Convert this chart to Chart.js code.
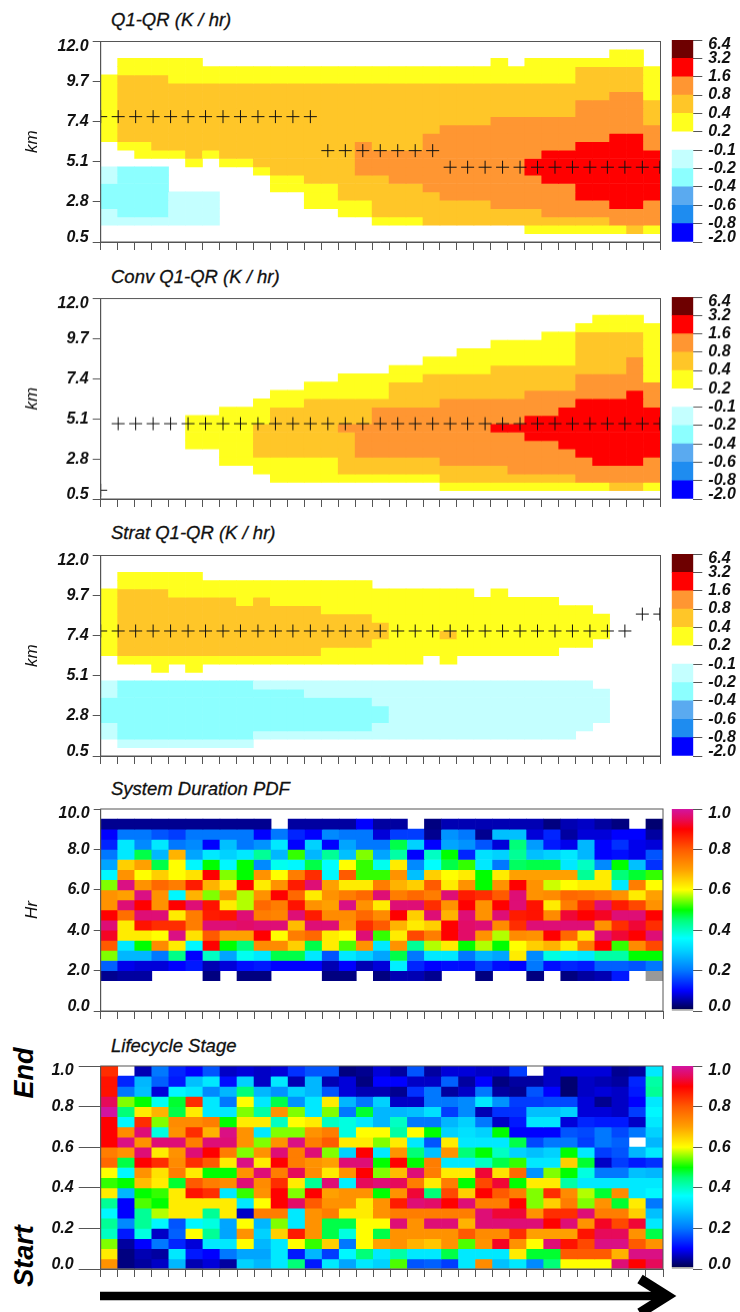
<!DOCTYPE html>
<html>
<head>
<meta charset="utf-8">
<script src="https://cdn.jsdelivr.net/npm/chart.js@4"></script>
<style>
  html, body { margin: 0; padding: 0; background: #fff; }
  #page { position: relative; width: 740px; height: 1312px; overflow: hidden; }
  canvas { position: absolute; }
  .title { position: absolute; left: 111px; font: italic 18.5px "Liberation Sans", sans-serif; line-height: 20px; color: #111; white-space: nowrap; -webkit-text-stroke: 0.3px #111; }
  .side { position: absolute; font: italic bold 27px "Liberation Sans", sans-serif; line-height: 30px; color: #000; transform: translate(-50%, -50%) rotate(-90deg); }
  svg { position: absolute; left: 0; top: 0; }
</style>
</head>
<body>
<div id="page">
  <svg width="740" height="1312">
    <line x1="100" y1="1296" x2="664" y2="1296" stroke="#000" stroke-width="8.5"/>
    <polyline points="640,1279 667,1296 640,1313" fill="none" stroke="#000" stroke-width="10"/>
  </svg>
  <div class="side" style="left:24px;top:1073px">End</div>
  <div class="side" style="left:24px;top:1256px">Start</div>
</div>
<script>
// Q1-QR heating classes, top row first, 33 columns
const q1Rows = [
  [0,0,0,0,0,0,0,0,0,0,0, 0,0,0,0,0,0,0,0,0,0,0, 0,0,0,0,0,0,0,0,0,0,0],
  [0,0,0,0,0,0,0,0,0,0,0, 0,0,0,0,0,0,0,0,0,0,0, 0,0,0,0,0,0,0,0,.3,.3,0],
  [0,.3,.3,.3,.3,.3,0,0,0,0,0, 0,0,0,0,0,0,0,0,0,0,0, 0,.3,0,.3,.3,.3,.3,.3,.3,.3,0],
  [0,.3,.3,.3,.3,.3,.3,.3,.3,.3,.3, .3,.3,.3,.3,.3,.3,.3,.3,.3,.3,.3, .3,.3,.3,.3,.3,.3,.6,.6,.6,.6,.3],
  [.3,.6,.6,.6,.3,.3,.3,.3,.3,.3,.3, .3,.3,.3,.3,.3,.3,.3,.3,.3,.3,.3, .3,.3,.3,.3,.3,.3,.6,.6,.6,.6,.3],
  [.3,.6,.6,.6,.6,.6,.6,.6,.6,.6,.6, .6,.6,.6,.6,.6,.6,.6,.6,.6,.6,.6, .6,.6,.6,.6,.6,.6,.6,.6,.6,.6,.3],
  [.3,.6,.6,.6,.6,.6,.6,.6,.6,.6,.6, .6,.6,.6,.6,.6,.6,.6,.6,.6,.6,.6, .6,.6,.6,.6,.6,.6,.6,.6,1.2,1.2,.3],
  [.3,.6,.6,.6,.6,.6,.6,.6,.6,.6,.6, .6,.6,.6,.6,.6,.6,.6,.6,.6,.6,.6, .6,.6,.6,.6,.6,.6,1.2,1.2,1.2,1.2,.6],
  [.3,.6,.6,.6,.6,.6,.6,.6,.6,.6,.6, .6,.6,.6,.6,.6,.6,.6,.6,.6,.6,.6, .6,.6,.6,.6,.6,.6,1.2,1.2,1.2,1.2,.6],
  [.3,.6,.6,.6,.6,.6,.6,.6,.6,.6,.6, .6,.6,.6,.6,.6,.6,.6,.6,.6,.6,.6, .6,1.2,1.2,1.2,1.2,1.2,1.2,1.2,1.2,1.2,.6],
  [.3,.6,.6,.6,.6,.6,.6,.6,.6,.6,.6, .6,.6,.6,.6,.6,.6,.6,.6,.6,1.2,1.2, 1.2,1.2,1.2,1.2,1.2,1.2,1.2,1.2,1.2,1.2,1.2],
  [.3,.6,.6,.6,.6,.6,.6,.6,.6,.6,.6, .6,.6,.6,.6,.6,.6,.6,.6,1.2,1.2,1.2, 1.2,1.2,1.2,1.2,1.2,1.2,1.2,1.2,2.4,2.4,1.2],
  [0,.3,.3,.6,.6,.6,.6,.6,.6,.6,.6, .6,.6,.6,.6,1.2,.6,.6,.6,1.2,1.2,1.2, 1.2,1.2,1.2,1.2,1.2,1.2,2.4,2.4,2.4,2.4,1.2],
  [0,0,.3,.3,.3,.6,.3,.6,.6,.6,.6, .6,.6,.6,.6,1.2,1.2,1.2,1.2,1.2,1.2,1.2, 1.2,1.2,1.2,1.2,2.4,2.4,2.4,2.4,2.4,2.4,2.4],
  [0,0,0,0,0,.3,0,.3,.3,.6,.6, .6,.6,.6,.6,1.2,1.2,1.2,1.2,1.2,1.2,1.2, 1.2,1.2,1.2,2.4,2.4,2.4,2.4,2.4,2.4,2.4,2.4],
  [-.15,-.3,-.3,-.3,0,0,0,0,0,.3,.6, .6,.6,.6,.6,1.2,1.2,1.2,1.2,1.2,1.2,1.2, 1.2,1.2,1.2,2.4,2.4,2.4,2.4,2.4,2.4,2.4,2.4],
  [-.15,-.3,-.3,-.3,0,0,0,0,0,0,.3, .3,.6,.6,.6,.6,.6,1.2,1.2,1.2,1.2,1.2, 1.2,1.2,1.2,1.2,2.4,2.4,2.4,2.4,2.4,2.4,2.4],
  [-.3,-.3,-.3,-.3,0,0,0,0,0,0,.3, .3,.3,.3,.6,.6,.6,.6,.6,1.2,1.2,1.2, 1.2,1.2,1.2,1.2,1.2,1.2,2.4,2.4,2.4,2.4,2.4],
  [-.3,-.3,-.3,-.3,-.15,-.15,-.15,0,0,0,0, 0,.3,.3,.6,.6,.6,.6,.6,.6,1.2,1.2, 1.2,1.2,1.2,1.2,1.2,1.2,2.4,2.4,2.4,2.4,2.4],
  [-.3,-.3,-.3,-.3,-.15,-.15,-.15,0,0,0,0, 0,.3,.3,.3,.3,.6,.6,.6,.6,.6,.6, .6,1.2,1.2,1.2,1.2,1.2,1.2,1.2,2.4,2.4,1.2],
  [-.15,-.3,-.3,-.3,-.15,-.15,-.15,0,0,0,0, 0,0,0,.3,.3,.6,.6,.6,.6,.6,.6, .6,.6,.6,.6,1.2,1.2,1.2,1.2,1.2,1.2,1.2],
  [-.15,-.15,-.15,-.15,-.15,-.15,-.15,0,0,0,0, 0,0,0,0,0,.3,.3,.3,.6,.6,.6, .6,.6,.6,.6,.6,.6,.6,.6,1.2,1.2,1.2],
  [0,0,0,0,0,0,0,0,0,0,0, 0,0,0,0,0,0,0,0,0,0,0, 0,0,0,.3,.3,.3,.3,.3,.3,.6,.3],
  [0,0,0,0,0,0,0,0,0,0,0, 0,0,0,0,0,0,0,0,0,0,0, 0,0,0,0,0,0,0,0,0,0,0]
];
const convRows = [
  [0,0,0,0,0,0,0,0,0,0,0, 0,0,0,0,0,0,0,0,0,0,0, 0,0,0,0,0,0,0,0,0,0,0],
  [0,0,0,0,0,0,0,0,0,0,0, 0,0,0,0,0,0,0,0,0,0,0, 0,0,0,0,0,0,0,0,0,0,0],
  [0,0,0,0,0,0,0,0,0,0,0, 0,0,0,0,0,0,0,0,0,0,0, 0,0,0,0,0,0,0,.3,.3,.3,0],
  [0,0,0,0,0,0,0,0,0,0,0, 0,0,0,0,0,0,0,0,0,0,0, 0,0,0,0,0,0,.3,.3,.3,.3,.3],
  [0,0,0,0,0,0,0,0,0,0,0, 0,0,0,0,0,0,0,0,0,0,0, 0,0,0,0,.3,.3,.6,.6,.6,.6,.3],
  [0,0,0,0,0,0,0,0,0,0,0, 0,0,0,0,0,0,0,0,0,0,0, 0,.3,.3,.3,.3,.3,.6,.6,.6,.6,.3],
  [0,0,0,0,0,0,0,0,0,0,0, 0,0,0,0,0,0,0,0,0,0,.3, .3,.3,.3,.3,.3,.3,.6,.6,.6,.6,.3],
  [0,0,0,0,0,0,0,0,0,0,0, 0,0,0,0,0,0,0,0,.3,.3,.3, .3,.3,.3,.3,.3,.3,.6,.6,.6,1.2,.3],
  [0,0,0,0,0,0,0,0,0,0,0, 0,0,0,0,0,0,.3,.3,.3,.3,.3, .3,.6,.6,.6,.6,.6,.6,.6,.6,1.2,.3],
  [0,0,0,0,0,0,0,0,0,0,0, 0,0,0,.3,.3,.3,.3,.3,.6,.6,.6, .6,.6,.6,.6,.6,.6,1.2,1.2,1.2,1.2,.3],
  [0,0,0,0,0,0,0,0,0,0,0, 0,.3,.3,.3,.3,.3,.6,.6,.6,.6,.6, .6,.6,.6,.6,.6,.6,1.2,1.2,1.2,1.2,1.2],
  [0,0,0,0,0,0,0,0,0,0,.3, .3,.3,.3,.3,.3,.3,.6,.6,.6,.6,.6, .6,.6,.6,1.2,1.2,1.2,1.2,1.2,1.2,2.4,1.2],
  [0,0,0,0,0,0,0,0,0,.3,.3, .3,.6,.6,.6,.6,.6,.6,.6,.6,1.2,1.2, 1.2,1.2,1.2,1.2,1.2,1.2,2.4,2.4,2.4,2.4,1.2],
  [0,0,0,0,0,0,0,.3,.3,.3,.6, .6,.6,.6,.6,.6,1.2,1.2,1.2,1.2,1.2,1.2, 1.2,1.2,1.2,1.2,1.2,2.4,2.4,2.4,2.4,2.4,2.4],
  [0,0,0,0,0,.3,.3,.3,.3,.3,.6, .6,.6,.6,.6,.6,1.2,1.2,1.2,1.2,1.2,1.2, 1.2,1.2,1.2,2.4,2.4,2.4,2.4,2.4,2.4,2.4,2.4],
  [0,0,0,0,0,.3,.3,.3,.3,.6,.6, .6,.6,.6,1.2,1.2,1.2,1.2,1.2,1.2,1.2,1.2, 1.2,2.4,2.4,2.4,2.4,2.4,2.4,2.4,2.4,2.4,2.4],
  [0,0,0,0,0,.3,.3,.3,.3,.6,.6, .6,.6,.6,.6,1.2,1.2,1.2,1.2,1.2,1.2,1.2, 1.2,1.2,1.2,2.4,2.4,2.4,2.4,2.4,2.4,2.4,2.4],
  [0,0,0,0,0,.3,.3,.3,.3,.6,.6, .6,.6,.6,.6,1.2,1.2,1.2,1.2,1.2,1.2,1.2, 1.2,1.2,1.2,1.2,1.2,2.4,2.4,2.4,2.4,2.4,2.4],
  [0,0,0,0,0,0,0,.3,.3,.6,.6, .6,.6,.6,.6,1.2,1.2,1.2,1.2,1.2,1.2,1.2, 1.2,1.2,1.2,1.2,1.2,1.2,2.4,2.4,2.4,2.4,2.4],
  [0,0,0,0,0,0,0,.3,.3,.3,.3, .3,.3,.3,.6,.6,.6,.6,.6,.6,1.2,1.2, 1.2,1.2,1.2,1.2,1.2,1.2,1.2,2.4,2.4,2.4,1.2],
  [0,0,0,0,0,0,0,0,0,.3,.3, .3,.3,.3,.6,.6,.6,.6,.6,.6,.6,.6, .6,.6,1.2,1.2,1.2,1.2,1.2,1.2,1.2,1.2,1.2],
  [0,0,0,0,0,0,0,0,0,0,.3, .3,.3,.3,.3,.3,.3,.3,.3,.3,.6,.6, .6,.6,.6,.6,.6,.6,1.2,1.2,1.2,1.2,1.2],
  [0,0,0,0,0,0,0,0,0,0,0, 0,0,0,0,0,0,0,0,0,.3,.3, .3,.3,.3,.3,.3,.3,.3,.3,.6,.6,.3],
  [0,0,0,0,0,0,0,0,0,0,0, 0,0,0,0,0,0,0,0,0,0,0, 0,0,0,0,0,0,0,0,0,0,0]
];
const stratRows = [
  [0,0,0,0,0,0,0,0,0,0,0, 0,0,0,0,0,0,0,0,0,0,0, 0,0,0,0,0,0,0,0,0,0,0],
  [0,0,0,0,0,0,0,0,0,0,0, 0,0,0,0,0,0,0,0,0,0,0, 0,0,0,0,0,0,0,0,0,0,0],
  [0,.3,.3,.3,.3,.3,0,0,0,0,0, 0,0,0,0,0,0,0,0,0,0,0, 0,0,0,0,0,0,0,0,0,0,0],
  [0,.3,.3,.3,.3,.3,.3,.3,.3,.3,.3, .3,.3,.3,.3,.3,0,0,0,0,0,0, 0,0,0,0,0,0,0,0,0,0,0],
  [.3,.6,.6,.6,.3,.3,.3,.3,.3,.3,.3, .3,.3,.3,.3,.3,.3,.3,.3,.3,.3,.3, 0,.3,0,0,0,0,0,0,0,0,0],
  [.3,.6,.6,.6,.6,.6,.6,.6,.3,.6,.3, .3,.3,.3,.3,.3,.3,.3,.3,.3,.3,.3, .3,.3,.3,.3,.3,0,0,0,0,0,0],
  [.3,.6,.6,.6,.6,.6,.6,.6,.6,.6,.6, .6,.6,.3,.3,.3,.3,.3,.3,.3,.3,.3, .3,.3,.3,.3,.3,.3,.3,0,0,0,0],
  [.3,.6,.6,.6,.6,.6,.6,.6,.6,.6,.6, .6,.6,.6,.6,.6,.3,.3,.3,.3,.3,.3, .3,.3,.3,.3,.3,.3,.3,.3,0,0,0],
  [.3,.6,.6,.6,.6,.6,.6,.6,.6,.6,.6, .6,.6,.6,.6,.6,.6,.3,.3,.3,.3,.3, .3,.3,.3,.3,.3,.3,.3,.3,0,0,0],
  [.3,.6,.6,.6,.6,.6,.6,.6,.6,.6,.6, .6,.6,.6,.6,.6,.6,.3,.3,.3,.6,.3, .3,.3,.3,.3,.3,.3,.3,.3,0,0,0],
  [.3,.6,.6,.6,.6,.6,.6,.6,.6,.6,.6, .6,.6,.6,.6,.6,.3,.3,.3,.3,.3,.3, .3,.3,.3,.3,.3,.3,.3,0,0,0,0],
  [.3,.6,.6,.6,.6,.6,.6,.6,.6,.6,.6, .6,.6,.3,.3,.3,.3,.3,.3,.3,.3,.3, .3,.3,.3,.3,.3,0,0,0,0,0,0],
  [0,.3,.3,.3,.3,.3,.3,.3,.3,.3,.3, .3,.3,.3,.3,.3,.3,.3,.3,0,.3,0, 0,0,0,0,0,0,0,0,0,0,0],
  [0,0,0,.3,0,.3,0,0,0,0,0, 0,0,0,0,0,0,0,0,0,0,0, 0,0,0,0,0,0,0,0,0,0,0],
  [0,0,0,0,0,0,0,0,0,0,0, 0,0,0,0,0,0,0,0,0,0,0, 0,0,0,0,0,0,0,0,0,0,0],
  [-.15,-.3,-.3,-.3,-.3,-.3,-.3,-.3,-.3,-.15,-.15, -.15,-.15,-.15,-.15,-.15,-.15,-.15,-.15,-.15,-.15,-.15, -.15,-.15,-.15,-.15,-.15,-.15,-.15,0,0,0,0],
  [-.15,-.3,-.3,-.3,-.3,-.3,-.3,-.3,-.3,-.3,-.3, -.3,-.15,-.15,-.15,-.15,-.15,-.15,-.15,-.15,-.15,-.15, -.15,-.15,-.15,-.15,-.15,-.15,-.15,-.15,0,0,0],
  [-.3,-.3,-.3,-.3,-.3,-.3,-.3,-.3,-.3,-.3,-.3, -.3,-.3,-.3,-.3,-.3,-.15,-.15,-.15,-.15,-.15,-.15, -.15,-.15,-.15,-.15,-.15,-.15,-.15,-.15,0,0,0],
  [-.3,-.3,-.3,-.3,-.3,-.3,-.3,-.3,-.3,-.3,-.3, -.3,-.3,-.3,-.3,-.3,-.3,-.15,-.15,-.15,-.15,-.15, -.15,-.15,-.15,-.15,-.15,-.15,-.15,-.15,0,0,0],
  [-.3,-.3,-.3,-.3,-.3,-.3,-.3,-.3,-.3,-.3,-.3, -.3,-.3,-.3,-.3,-.3,-.3,-.15,-.15,-.15,-.15,-.15, -.15,-.15,-.15,-.15,-.15,-.15,-.15,-.15,0,0,0],
  [-.15,-.3,-.3,-.3,-.3,-.3,-.3,-.3,-.3,-.3,-.3, -.3,-.3,-.3,-.3,-.3,-.15,-.15,-.15,-.15,-.15,-.15, -.15,-.15,-.15,-.15,-.15,-.15,-.15,0,0,0,0],
  [-.15,-.3,-.3,-.3,-.3,-.3,-.3,-.3,-.3,-.15,-.15, -.15,-.15,-.15,-.15,-.15,-.15,-.15,-.15,-.15,-.15,-.15, -.15,-.15,-.15,-.15,-.15,-.15,0,0,0,0,0],
  [0,-.15,-.15,-.15,-.15,-.15,-.15,-.15,-.15,0,0, 0,0,0,0,0,0,0,0,0,0,0, 0,0,0,0,0,0,0,0,0,0,0],
  [0,0,0,0,0,0,0,0,0,0,0, 0,0,0,0,0,0,0,0,0,0,0, 0,0,0,0,0,0,0,0,0,0,0]
];
// system duration PDF, top row (9.5-10 hr) first; null = no data, -.01 = below range
const durationRows = [
  [null,null,null,null,null,null,null,null,null,null,null, null,null,null,null,null,null,null,null,null,null,null, null,null,null,null,null,null,null,null,null,null,null],
  [.04,.04,.04,.04,.04,.04,.04,.04,.04,.04,null, .05,.05,.05,.05,.1,.05,.05,null,.03,.06,.06, .06,.06,.06,.06,.03,.06,.07,.05,.03,null,.02],
  [.1,.2,.2,.17,.15,.2,.2,.2,.2,.1,.2, .13,.1,.22,.2,.2,.08,.15,.15,.04,.23,.2, .04,.28,.28,.08,.13,.05,.08,.08,.1,.1,.05],
  [.13,.33,.22,.33,.2,.22,.1,.28,.2,.23,.33, .1,.3,.1,.25,.2,.2,.47,.3,.1,.25,.23, .17,.08,.45,.24,.12,.09,.27,.1,.14,.09,.08],
  [.2,.33,.47,.27,.68,.25,.33,.3,.33,.43,.27, .52,.27,.43,.28,.55,.25,.42,.1,.4,.5,.13, .32,.3,.43,.28,.3,.33,.27,.1,.11,.09,.17],
  [.25,.65,.7,.47,.6,.35,.5,.35,.5,.22,.37, .35,.47,.36,.6,.52,.37,.62,.22,.36,.47,.52, .33,.2,.46,.47,.47,.33,.4,.22,.5,.28,.14],
  [.35,.72,.6,.65,.6,.63,.9,.55,.5,.72,.6, .75,.85,.35,.8,.52,.52,.72,.28,.65,.6,.62, .5,.62,.7,.7,.7,.7,.43,.62,.45,.48,.52],
  [.55,.98,.72,.78,.75,.87,.68,.62,.9,.62,.72, .87,.97,.7,.62,.62,.75,.68,.65,.8,.62,.72, .5,.72,.9,.72,.58,.6,.62,.62,.33,.75,.6],
  [.72,.7,.98,.72,.35,.68,.55,.72,.57,.72,.9, .78,.62,.72,.75,.78,.97,.75,.78,.75,.97,.87, .85,.8,.97,.72,.73,.78,.77,.75,.72,.62,.7],
  [.72,.97,.9,.72,.9,.97,.88,.62,.57,.78,.75, .88,.72,.7,.98,.72,.62,.97,.97,.85,.72,.9, .72,.9,.97,.88,.62,.75,.85,.97,.87,.82,.72],
  [.9,.77,.97,.97,.62,.75,.87,.88,.97,.75,.74, .97,.87,.73,.73,.78,.73,.9,.65,.97,.68,.97, .72,.97,.87,.88,.73,.93,.9,.92,.97,.97,.9],
  [.97,.62,.88,.85,.85,.75,.97,.97,.96,.97,.97, .67,.97,.97,.72,.85,.8,.68,.62,.65,.9,.96, .97,.73,.85,.97,.97,.97,.97,.72,.85,.93,.85],
  [.92,.62,.62,.6,.98,.63,.8,.7,.7,.9,.6, .75,.78,.62,.6,.97,.52,.62,.82,.75,.9,.96, .72,.57,.73,.72,.9,.78,.63,.97,.93,.9,.97],
  [.8,.33,.5,.73,.62,.35,.9,.5,.45,.73,.73, .65,.47,.62,.53,.72,.33,.72,.43,.57,.62,.5, .57,.5,.6,.65,.68,.62,.75,.9,.52,.73,.82],
  [.55,.27,.27,.2,.44,.1,.4,.25,.37,.33,.47, .47,.33,.17,.33,.3,.25,.47,.2,.33,.33,.2, .27,.25,.62,.22,.38,.34,.33,.42,.42,.5,.5],
  [.18,.09,.08,.08,.1,.12,.06,.08,.11,.12,.1, .1,.1,.06,.1,.06,.08,.34,.13,.1,.11,.11, .15,.11,.1,.2,.11,.13,.12,.18,.18,.17,.2],
  [.04,.05,.05,null,null,null,.03,null,.03,.03,null, null,null,.03,.03,null,.03,.06,.06,.04,null,null, .03,null,null,.03,null,.03,.05,.06,.12,null,-.01],
  [null,null,null,null,null,null,null,null,null,null,null, null,null,null,null,null,null,null,null,null,null,null, null,null,null,null,null,null,null,null,null,null,null],
  [null,null,null,null,null,null,null,null,null,null,null, null,null,null,null,null,null,null,null,null,null,null, null,null,null,null,null,null,null,null,null,null,null],
  [null,null,null,null,null,null,null,null,null,null,null, null,null,null,null,null,null,null,null,null,null,null, null,null,null,null,null,null,null,null,null,null,null]
];
// lifecycle stage, top row (End) first
const lifecycleRows = [
  [.85,null,.06,.2,.13,.1,.17,.07,.08,.07,.08, .14,.17,.17,.03,.04,.08,.05,.17,.05,.08,.08, .07,.07,.15,null,.07,.08,.08,.08,.04,.05,.33],
  [.88,.13,.27,.18,.12,.28,.33,.11,.3,.07,.33, .06,.27,.06,.08,.03,.1,.1,.07,.07,.18,.05, .1,.03,.05,.05,.07,.02,.07,.06,.05,.13,.42],
  [.88,.2,.28,.08,.35,.33,.22,.27,.45,.27,.23, .3,.27,.17,.08,.06,.06,.04,.14,.2,.05,.07, .2,.05,.04,.17,.1,.02,.07,.08,.07,.12,.43],
  [.95,.55,.5,.37,.48,.85,.33,.2,.6,.33,.47, .23,.33,.62,.27,.2,.3,.07,.07,.2,.2,.22, .33,.23,.15,.15,.16,.16,.08,.04,.07,.1,.33],
  [1,.45,.62,.68,.47,.62,.33,.33,.55,.42,.72, .55,.33,.55,.2,.48,.27,.27,.28,.32,.15,.22, .06,.14,.14,.28,.28,.3,.08,.08,.07,.15,.35],
  [.9,.35,.85,.55,.73,.73,.75,.5,.62,.62,.4, .6,.62,.4,.38,.33,.27,.4,.2,.2,.27,.3, .2,.07,.12,.33,.33,.08,.13,.12,.12,.07,.33],
  [.9,.73,.97,.38,.72,.85,.68,.98,.72,.33,.55, .55,.72,.75,.38,.6,.6,.42,.6,.5,.3,.32, .3,.5,.1,.1,.1,.17,.16,.2,.16,.2,.3],
  [.9,.98,.72,.97,.97,.75,.97,.97,.72,.55,.72, .98,.75,.8,.62,.62,.55,.62,.33,.17,.62,.33, .33,.33,.47,.16,.2,.2,.15,.2,.18,null,.27],
  [.75,.72,.97,.62,.72,.97,.9,.75,.55,.72,.97, .75,.97,.55,.3,.9,.33,.72,.45,.28,.72,.45, .5,.4,.3,.28,.3,.5,.33,.15,.17,.27,.33],
  [.78,.47,.9,.85,.73,.85,.8,.62,.98,.62,.9, .75,.72,.7,.97,.97,.5,.9,.5,.75,.33,.33, .4,.47,.52,.33,.33,.65,.48,.07,.15,.12,.14],
  [.6,.35,.72,.63,.75,.62,.5,.5,.72,.97,.75, .95,.73,.62,.72,.9,.55,.67,.97,.75,.62,.62, .93,.63,.78,.23,.55,.5,.38,.2,.2,.28,.27],
  [.52,.5,.67,.62,.48,.8,.75,.73,.97,.73,.85, .62,.43,.97,.34,.95,.97,.95,.75,.62,.75,.5, .82,.93,.5,.62,.62,.42,.33,.33,.33,.33,.33],
  [.62,.27,.5,.52,.62,.88,.85,.33,.52,.72,.9, .55,.9,.7,.72,.72,.5,.72,.93,.45,.82,.65, .9,.8,.75,.55,.85,.73,.57,.48,.73,.33,.35],
  [.43,.1,.53,.5,.62,.62,.62,.62,.33,.6,.9, .96,.8,.72,.72,.62,.72,.87,.97,.96,.9,.97, .75,.75,.9,.55,.65,.75,.55,.72,.48,.62,.2],
  [.35,.1,.43,.57,.62,.62,.43,.62,.07,.75,.75, .33,.72,.75,.62,.62,.72,.75,.75,.75,.75,.75, .97,.93,.93,.72,.85,.85,.97,.75,.75,.65,.28],
  [.43,.22,.43,.35,.17,.35,.38,.25,.6,.27,.55, .33,.72,.47,.47,.6,.6,.97,.72,.97,.97,.68, .97,.97,.97,.97,.9,.97,.72,.92,.82,.93,.33],
  [.4,.12,.38,.07,.18,.6,.43,.25,.72,.3,.65, .87,.72,.47,.38,.6,.47,.72,.72,.72,.72,.8, .73,.73,.85,.7,.7,.7,.88,.95,.95,.72,.47],
  [.55,.05,.1,.2,.13,.08,.33,.33,.6,.27,.33, .6,.52,.65,.2,.6,.7,.72,.68,.66,.72,.53, .72,.92,.72,.6,.97,.88,.82,.98,.98,.8,.72],
  [.62,.03,.06,.05,.33,.12,.1,.2,.25,.25,.33, .12,.27,.15,.35,.45,.33,.42,.33,.33,.47,.33, .33,.33,.62,.48,.48,.8,.8,.8,.68,.98,.98],
  [.72,.03,.05,.07,.27,.06,.08,.05,.3,.27,.33, .45,.12,.33,.25,.33,.3,.53,.17,.18,.15,.33, .73,.28,.33,.22,.45,.6,.6,.6,.97,.9,.95]
];

// peak-heating crosses, x in column units
const q1CrossX = [0,1.03,2.06,3.09,4.12,5.15,6.18,7.21,8.24,9.27,10.3,11.33,12.36,13.39,14.42,15.45,16.48,17.51,18.54,19.57,20.6,21.63,22.66,23.69,24.72,25.75,26.78,27.81,28.84,29.87,30.9,31.93,32.96];
const q1CrossY = [7.69,7.69,7.69,7.69,7.69,7.69,7.69,7.69,7.69,7.69,7.69,7.69,7.69,5.74,5.74,5.74,5.74,5.74,5.74,5.74,4.79,4.79,4.79,4.79,4.79,4.79,4.79,4.79,4.79,4.79,4.79,4.79,4.79];
const convCrossY = [1.0,4.82,4.82,4.82,4.82,4.82,4.82,4.82,4.82,4.82,4.82,4.82,4.82,4.82,4.82,4.82,4.82,4.82,4.82,4.82,4.82,4.82,4.82,4.82,4.82,4.82,4.82,4.82,4.82,4.82,4.82,4.82,4.82];
const stratCrossY = [7.67,7.67,7.67,7.67,7.67,7.67,7.67,7.67,7.67,7.67,7.67,7.67,7.67,7.67,7.67,7.67,7.67,7.67,7.67,7.67,7.67,7.67,7.67,7.67,7.67,7.67,7.67,7.67,7.67,7.67,7.67,8.64,8.64];

const heatEdges = [-2, -.8, -.6, -.4, -.2, -.1, .2, .4, .8, 1.6, 3.2, 6.4];
const heatColors = ['#0000ff', '#1e8cf0', '#5aaaf0', '#8cffff', '#c4ffff', '#ffffff', '#ffff1e', '#ffc628', '#ff9632', '#ff0000', '#6e0000'];
const heatTicks = ['-2.0', '-0.8', '-0.6', '-0.4', '-0.2', '-0.1', '0.2', '0.4', '0.8', '1.6', '3.2', '6.4'];
const rainbowStops = [0, .05, .1, .2, .3, .36, .45, .5, .6, .7, .8, .9, .95, 1];
const rainbowColors = ['#000050', '#0000a0', '#0000ff', '#0078ff', '#00d2ff', '#00ffff', '#00ff78', '#00ff00', '#ffff00', '#ffa000', '#ff5a00', '#ff0000', '#e60a5a', '#d214a0'];

const FONT = '"Liberation Sans", sans-serif';
const tickFont = { family: FONT, size: 16, style: 'italic', weight: 'bold', lineHeight: 0.6 };
const frameColor = '#555';
const COLS = 33;
const page = document.getElementById('page');

function heatColor(v) {
  for (let i = 0; i < heatColors.length; i++) {
    if (v < heatEdges[i + 1]) return v > 0 && v < .2 || v === 0 ? 'rgba(0,0,0,0)' : heatColors[i];
  }
  return heatColors[heatColors.length - 1];
}

function hex(c) {
  return [1, 3, 5].map(i => parseInt(c.substr(i, 2), 16));
}

function rainbowColor(v) {
  if (v === null) return 'rgba(0,0,0,0)';
  if (v < 0) return '#999999';
  let i = 0;
  while (i < rainbowStops.length - 2 && v > rainbowStops[i + 1]) i++;
  const t = (v - rainbowStops[i]) / (rainbowStops[i + 1] - rainbowStops[i]);
  const a = hex(rainbowColors[i]), b = hex(rainbowColors[i + 1]);
  return 'rgb(' + a.map((x, k) => Math.round(x + (b[k] - x) * t)).join(',') + ')';
}

function addCanvas(left, top, width, height) {
  const c = document.createElement('canvas');
  c.width = width;
  c.height = height;
  c.style.left = left + 'px';
  c.style.top = top + 'px';
  c.style.width = width + 'px';
  c.style.height = height + 'px';
  page.appendChild(c);
  return c;
}

function addTitle(text, centerY) {
  const d = document.createElement('div');
  d.className = 'title';
  d.textContent = text;
  d.style.top = (centerY - 10) + 'px';
  page.appendChild(d);
}

// the end labels sit inside the frame in the reference, so push them in with an empty line
function tickLabel(text, index, count) {
  if (index === 0) return [text, ''];
  if (index === count - 1) return ['', text];
  return text;
}

// chart.js reserves room for overflowing labels, the frame has to stay where it is
function noPadding(s) {
  s.paddingTop = s.paddingBottom = s.paddingLeft = s.paddingRight = 0;
}

const framePlugin = {
  id: 'frame',
  afterDraw(chart) {
    const { left, top, width, height } = chart.chartArea;
    const ctx = chart.ctx;
    ctx.save();
    ctx.strokeStyle = frameColor;
    ctx.lineWidth = 1;
    ctx.strokeRect(left, top, width, height);
    ctx.restore();
  }
};

function drawPanel(p) {
  const height = p.bottom - p.top;
  const canvas = addCanvas(0, p.top - 6, 668, height + 16);
  const step = (p.max - p.min) / p.rows.length;
  const datasets = p.rows.map((row, r) => ({
    type: 'bar',
    order: 1,
    data: row.map((v, c) => ({ x: c + .5, y: [p.max - (r + 1) * step, p.max - r * step] })),
    backgroundColor: row.map(p.color),
    borderWidth: 0,
    barPercentage: 1,
    categoryPercentage: 1
  }));
  if (p.crossY) {
    datasets.push({
      type: 'scatter',
      order: 0,
      data: p.crossY.map((y, i) => ({ x: q1CrossX[i], y })),
      pointStyle: 'cross',
      pointRadius: 6.5,
      pointBorderColor: '#111',
      pointBorderWidth: 1
    });
  }
  new Chart(canvas, {
    data: { datasets },
    plugins: [framePlugin],
    options: {
      responsive: false,
      animation: false,
      layout: { padding: { top: 6, right: 5, left: 0, bottom: 0 } },
      plugins: { legend: { display: false }, tooltip: { enabled: false } },
      scales: {
        x: {
          type: 'linear',
          stacked: true,
          min: 0,
          max: COLS,
          offset: false,
          ticks: { display: false, stepSize: 1 },
          grid: { drawOnChartArea: false, tickLength: 8, color: frameColor, offset: false },
          border: { color: frameColor },
          afterFit(s) { s.height = 10; noPadding(s); }
        },
        y: {
          min: p.min,
          max: p.max,
          ticks: {
            stepSize: p.stepSize,
            autoSkip: false,
            font: tickFont,
            color: '#111',
            padding: p.tickPad,
            callback: (v, i, all) => tickLabel(v.toFixed(1), i, all.length)
          },
          grid: { drawOnChartArea: false, tickLength: p.tickLen, color: frameColor },
          border: { color: frameColor },
          title: {
            display: !!p.yTitle,
            text: p.yTitle,
            color: '#111',
            font: { family: FONT, size: 17, style: 'italic' },
            padding: { top: 22, bottom: 0 }
          },
          afterFit(s) { s.width = 100.7; noPadding(s); }
        }
      }
    }
  });
  addTitle(p.title, p.titleY);
}

function drawDiscreteBar(top, bottom) {
  const canvas = addCanvas(668, top - 6, 72, bottom - top + 12);
  new Chart(canvas, {
    type: 'bar',
    data: {
      labels: ['level'],
      datasets: heatColors.map((c, i) => ({
        data: [[i, i + 1]],
        backgroundColor: c,
        barPercentage: 1,
        categoryPercentage: 1
      }))
    },
    options: colorbarOptions(0, heatColors.length, 1, (v, i, all) => tickLabel(heatTicks[v], i, all.length))
  });
}

function drawRainbowBar(top, bottom) {
  const canvas = addCanvas(668, top - 6, 72, bottom - top + 12);
  new Chart(canvas, {
    type: 'bar',
    data: {
      labels: ['level'],
      datasets: [{
        data: [[0, 1]],
        barPercentage: 1,
        categoryPercentage: 1,
        backgroundColor(ctx) {
          const area = ctx.chart.chartArea;
          if (!area) return rainbowColors[0];
          const g = ctx.chart.ctx.createLinearGradient(0, area.bottom, 0, area.top);
          g.addColorStop(0, '#aaaaaa');
          g.addColorStop(.008, '#aaaaaa');
          g.addColorStop(.0081, rainbowColors[0]);
          rainbowStops.forEach((s, i) => { if (i > 0) g.addColorStop(s, rainbowColors[i]); });
          return g;
        }
      }]
    },
    options: colorbarOptions(0, 1, .2, (v, i, all) => tickLabel(v.toFixed(1), i, all.length))
  });
}

function colorbarOptions(min, max, stepSize, callback) {
  return {
    responsive: false,
    animation: false,
    layout: { padding: { top: 6, bottom: 6, left: 3.7, right: 0 } },
    plugins: { legend: { display: false }, tooltip: { enabled: false } },
    scales: {
      x: { stacked: true, display: false },
      y: {
        position: 'right',
        min,
        max,
        ticks: { stepSize, autoSkip: false, font: tickFont, color: '#111', padding: 6, callback },
        grid: { drawOnChartArea: false, tickLength: 9, color: frameColor },
        border: { display: false },
        afterFit(s) { s.width = 46.7; noPadding(s); }
      }
    }
  };
}

const kmPanel = { min: .5, max: 12, stepSize: 2.3, tickLen: 8, tickPad: 4, yTitle: 'km', color: heatColor };

drawPanel({ ...kmPanel, top: 40, bottom: 242, titleY: 20, title: 'Q1-QR (K / hr)', rows: q1Rows, crossY: q1CrossY });
drawDiscreteBar(40, 242);
drawPanel({ ...kmPanel, top: 297, bottom: 498.7, titleY: 277, title: 'Conv Q1-QR (K / hr)', rows: convRows, crossY: convCrossY });
drawDiscreteBar(297, 498.7);
drawPanel({ ...kmPanel, top: 553.5, bottom: 755.7, titleY: 533, title: 'Strat Q1-QR (K / hr)', rows: stratRows, crossY: stratCrossY });
drawDiscreteBar(553.5, 755.7);
drawPanel({ top: 809, bottom: 1011, min: 0, max: 10, stepSize: 2, tickLen: 7, tickPad: 4, yTitle: 'Hr', color: rainbowColor, titleY: 789, title: 'System Duration PDF', rows: durationRows });
drawRainbowBar(809, 1011);
drawPanel({ top: 1065.7, bottom: 1268.7, min: 0, max: 1, stepSize: .2, tickLen: 22, tickPad: 5, color: rainbowColor, titleY: 1046, title: 'Lifecycle Stage', rows: lifecycleRows });
drawRainbowBar(1065.7, 1268.7);
</script>
</body>
</html>
